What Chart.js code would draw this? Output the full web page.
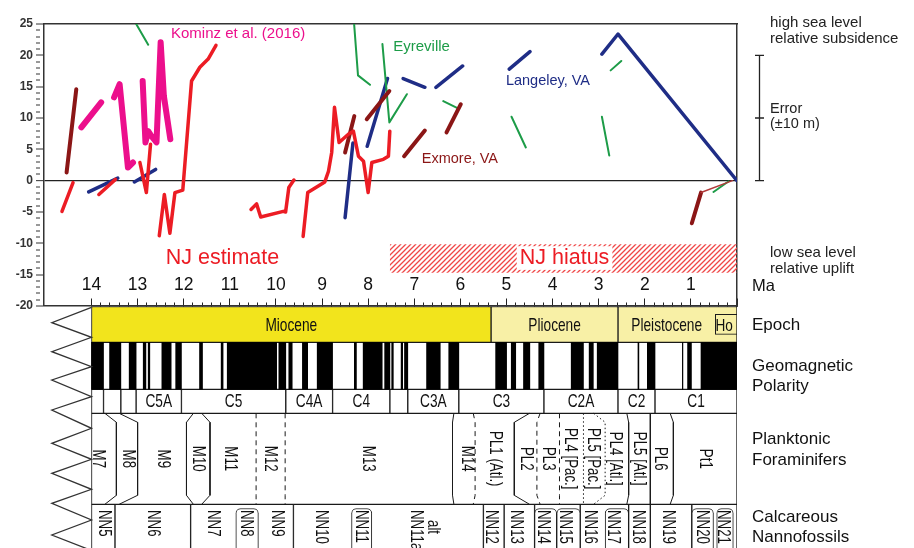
<!DOCTYPE html>
<html>
<head>
<meta charset="utf-8">
<script src="https://cdn.jsdelivr.net/npm/chart.js@4.4.1/dist/chart.umd.min.js"></script>
<style>
  html, body { margin: 0; padding: 0; background: #fff; }
  #wrap { position: relative; width: 914px; height: 548px; overflow: hidden; }
  #seaChart { position: absolute; left: 0; top: 0; }
  #scaleChart { position: absolute; left: 0; top: 306px; }
</style>
</head>
<body>
<div id="wrap">
  <canvas id="seaChart" width="914" height="320"></canvas>
  <canvas id="scaleChart" width="914" height="242"></canvas>
</div>
<script>
// ---- sea level curves: age (Ma) and level (m); null breaks a curve ----
const njAge = [14.64, 14.40, null, 13.84, 13.48, null, 12.95, 12.81, 12.72, null,
  12.53, 12.42, 12.30, 12.19, 12.02, 11.83, 11.65, 11.47, 11.30, null,
  10.54, 10.42, 10.33, 9.84, 9.79, 9.72, 9.61, null,
  9.41, 9.31, 8.94, 8.86, 8.79, 8.73, 8.63, 8.43, 8.32, 8.21, 8.10, 8.00, 7.92, 7.67, 7.56, 7.53];
const njLevel = [-4.9, -0.3, null, -2.2, 0.2, null, 2.9, -1.9, 5.8, null,
  -8.8, -2.2, -8.4, -1.9, -1.5, 15.9, 18.1, 19.4, 21.6, null,
  -4.6, -3.7, -5.8, -4.9, -5.0, -1.1, 0.1, null,
  -8.9, -1.9, -0.2, 1.5, 4.5, 11.7, 6.1, 7.4, 7.9, 3.9, 3.1, -1.9, 2.9, 3.4, 3.9, 7.9];

const kominzAge = [14.22, 13.79, null, 13.51, 13.39, 13.21, 13.10, null,
  12.89, 12.83, 12.77, 12.70, 12.59, 12.50, 12.43, 12.29];
const kominzLevel = [8.5, 12.5, null, 13.3, 15.4, 2.1, 2.9, null,
  15.9, 6.1, 7.9, 7.1, 6.1, 22.1, 13.5, 6.6];

const exmoreAge = [14.54, 14.33, null, 8.50, 8.30, null, 8.03, 7.54, null, 7.22, 6.77, null, 6.30, 5.99, null, 0.98, 0.78, 0.10];
const exmoreLevel = [1.3, 14.6, null, 4.5, 10.3, null, 9.8, 14.3, null, 3.9, 8.0, null, 7.7, 12.2, null, -6.8, -1.9, 0.0];

const langAge = [14.06, 13.43, null, 13.07, 12.61, null, 8.50, 8.33, null, 8.02, 7.58, null,
  7.24, 6.77, null, 6.53, 5.95, null, 4.94, 4.49, null, 2.93, 2.58, 0];
const langLevel = [-1.8, 0.4, null, -0.2, 1.8, null, -5.9, 6.0, null, 5.5, 16.3, null,
  16.3, 14.9, null, 14.9, 18.3, null, 17.8, 20.6, null, 20.2, 23.4, 0];

const eyreAge = [13.07, 12.77, null, 8.31, 8.22, 7.96, null, 7.69, 7.54, 7.16, null, 6.37, 6.04, null,
  4.89, 4.58, null, 2.93, 2.77, null, 2.74, 2.51, null, 0.51, 0.18];
const eyreLevel = [25.5, 21.7, null, 25.6, 16.8, 15.3, null, 21.8, 9.3, 13.8, null, 12.7, 11.5, null,
  10.2, 5.3, null, 10.2, 4.0, null, 17.6, 19.1, null, -1.8, -0.1];

// NJ hiatus band
const hiatusAge = [7.53, 0];
const hiatusTop = -10.15;
const hiatusBottom = -14.7;

// ---- time scale ----
const epochNames = ['Miocene', 'Pliocene', 'Pleistocene'];
const epochFrom = [14, 5.333, 2.58];
const epochTo = [5.333, 2.58, 0];
const holoceneBox = [0.47, 0];

// normal polarity intervals (black)
const normalFrom = [14.0, 13.608, 13.183, 12.878, 12.770, 12.474, 12.174, 11.657, 11.188, 11.056, 9.937, 9.721,
  9.426, 9.105, 8.300, 8.108, 7.642, 7.489, 7.285, 7.212, 6.733, 6.252, 5.235, 4.896, 4.631, 4.300,
  3.596, 3.207, 3.032, 2.148, 1.945, 1.185, 1.072, 0.781];
const normalTo = [13.739, 13.363, 13.032, 12.820, 12.735, 12.272, 12.049, 11.592, 11.146, 9.984, 9.786, 9.647,
  9.311, 8.771, 8.254, 7.695, 7.528, 7.454, 7.251, 7.140, 6.436, 6.033, 4.997, 4.799, 4.493, 4.187,
  3.330, 3.116, 2.581, 2.128, 1.778, 1.173, 0.988, 0];

const chronNames = ['', '', '', 'C5A', 'C5', 'C4A', 'C4', '', 'C3A', 'C3', 'C2A', 'C2', 'C1'];
const chronFrom = [14, 13.739, 13.363, 13.032, 12.049, 9.786, 8.771, 7.528, 7.140, 6.033, 4.187, 2.581, 1.778];
const chronTo = [13.739, 13.363, 13.032, 12.049, 9.786, 8.771, 7.528, 7.140, 6.033, 4.187, 2.581, 1.778, 0];

const foramNames = ['M7', 'M8', 'M9', 'M10', 'M11', 'M12', 'M13', 'M14', 'PL1 (Atl.)', 'PL2', 'PL3',
  'PL4 [Pac.]', 'PL5 [Pac.]', 'PL4 [Atl.]', 'PL5 [Atl.]', 'PL6', 'Pt1'];
const foramAt = [13.86, 13.21, 12.45, 11.69, 11.0, 10.13, 8.0, 5.86, 5.25, 4.57, 4.09, 3.62, 3.11, 2.64, 2.12, 1.67, 0.69];
// zone boundaries: age at row edge, age at row middle
const foramSolidEdge = [13.71, 13.40, 11.79, 11.61, 6.14, 4.50, 2.39, 1.88, 1.45];
const foramSolidMid = [13.46, 13.00, 11.94, 11.43, 6.17, 4.83, 2.35, 1.88, 1.38];
const foramDashEdge = [10.43, 9.80, 5.72, 4.27, 3.85];
const foramDashMid = [10.43, 9.80, 5.68, 4.34, 3.85];
const foramDotEdge = [3.33, 3.11];
const foramDotMid = [3.33, 2.86];

const nannoFrom = [14, 13.49, 11.85, 9.62, 5.50, 5.05, 4.39, 3.40, 2.35, 1.88, 0.98];
const nannoTo = [13.49, 11.85, 9.62, 5.50, 5.05, 4.39, 3.40, 2.35, 1.88, 0.98, 0];
const nannoBoxFrom = [10.87, 8.36, 4.39, 3.91, 2.86, 0.98, 0.44];
const nannoBoxTo = [10.38, 7.92, 3.91, 3.40, 2.35, 0.51, 0.08];
const nannoNames = ['NN5', 'NN6', 'NN7', 'NN8', 'NN9', 'NN10', 'NN11', 'NN11a', 'alt', 'NN12', 'NN13', 'NN14',
  'NN15', 'NN16', 'NN17', 'NN18', 'NN19', 'NN20', 'NN21'];
const nannoAt = [13.73, 12.66, 11.36, 10.64, 9.98, 9.01, 8.14, 6.96, 6.59, 5.32, 4.79, 4.21, 3.73, 3.19, 2.68, 2.14, 1.49, 0.76, 0.29];

const rowTitles = ['Epoch', ['Geomagnetic', 'Polarity'], ['Planktonic', 'Foraminifers'], ['Calcareous', 'Nannofossils']];

// ---- look ----
const FONT = '"Liberation Sans", Arial, Helvetica, sans-serif';
const INK = '#1a1a1a';
const RED = '#ec1c24', MAGENTA = '#ec0f8c', GREEN = '#1d9c48', BLUE = '#1f2d86', DARKRED = '#8b1616';
Chart.defaults.font.family = FONT;
Chart.defaults.color = '#111';

// row bands of the lower panel, in px below its top edge
const ROW = { epoch: [0.5, 36.3], polarity: [36.3, 83.3], chron: [83.3, 107.3], foram: [107.3, 198.3], nanno: [198.3, 254] };
const titleAt = [19.8, 70.5, 144, 221.5];
const mid = r => (r[0] + r[1]) / 2;
const isWhole = v => Math.abs(v - Math.round(v)) < 1e-6;

function curve(ages, levels, color, width, order) {
  return {
    data: ages.map((a, i) => ({ x: a, y: levels[i] })),
    borderColor: color, borderWidth: width, order,
    pointRadius: 0, fill: false, spanGaps: false, tension: 0,
    borderCapStyle: 'round', borderJoinStyle: 'round'
  };
}

function hatchPattern(ctx) {
  const c = document.createElement('canvas');
  c.width = c.height = 5;
  const g = c.getContext('2d');
  g.strokeStyle = '#ef4747';
  g.lineWidth = 1.3;
  g.beginPath();
  g.moveTo(-1, 6); g.lineTo(6, -1);
  g.moveTo(-1, 1); g.lineTo(1, -1);
  g.moveTo(4, 6); g.lineTo(6, 4);
  g.stroke();
  return ctx.createPattern(c, 'repeat');
}

const curveNotes = [
  { text: 'Kominz et al. (2016)', at: [10.82, 23.4], color: MAGENTA, size: 15 },
  { text: 'Eyreville', at: [6.84, 21.3], color: GREEN, size: 15 },
  { text: 'Langeley, VA', at: [4.10, 15.9], color: BLUE, size: 14.5 },
  { text: 'Exmore, VA', at: [6.01, 3.46], color: DARKRED, size: 14.5 },
  { text: 'NJ estimate', at: [11.16, -12.35], color: RED, size: 21.5 },
  { text: 'NJ hiatus', at: [3.74, -12.35], color: RED, size: 21.5, patch: true }
];

const seaNotes = {
  id: 'seaNotes',
  afterDatasetsDraw(chart) {
    const { ctx, scales: { x, y } } = chart;
    ctx.save();
    ctx.textAlign = 'center';
    ctx.textBaseline = 'middle';
    for (const n of curveNotes) {
      const px = x.getPixelForValue(n.at[0]);
      const py = y.getPixelForValue(n.at[1]);
      ctx.font = `${n.size}px ${FONT}`;
      if (n.patch) {
        const w = ctx.measureText(n.text).width;
        ctx.fillStyle = '#fff';
        ctx.fillRect(px - w / 2 - 3, py - n.size * 0.55, w + 6, n.size * 1.1);
      }
      ctx.fillStyle = n.color;
      ctx.fillText(n.text, px, py);
    }
    ctx.restore();
  },
  afterDraw(chart) {
    const { ctx, scales: { y }, chartArea } = chart;
    const bx = chartArea.right + 22.5;
    ctx.save();
    // error bar, +-10 m around 10 m
    ctx.strokeStyle = '#222';
    ctx.lineWidth = 1.3;
    ctx.beginPath();
    ctx.moveTo(bx, y.getPixelForValue(0));
    ctx.lineTo(bx, y.getPixelForValue(20));
    for (const v of [0, 10, 20]) {
      ctx.moveTo(bx - 4.5, y.getPixelForValue(v));
      ctx.lineTo(bx + 4.5, y.getPixelForValue(v));
    }
    ctx.stroke();
    ctx.fillStyle = '#222';
    ctx.textAlign = 'left';
    ctx.textBaseline = 'alphabetic';
    const tx = chartArea.right + 33;
    ctx.font = `15px ${FONT}`;
    ctx.fillText('high sea level', tx, 26.7);
    ctx.fillText('relative subsidence', tx, 43.3);
    ctx.fillText('low sea level', tx, 257.3);
    ctx.fillText('relative uplift', tx, 273.3);
    ctx.font = `14.5px ${FONT}`;
    ctx.fillText('Error', tx, 113.3);
    ctx.fillText('(\u00b110 m)', tx, 128.3);
    ctx.fillStyle = '#111';
    ctx.font = `16.5px ${FONT}`;
    ctx.fillText('Ma', chartArea.right + 15, 290.7);
    ctx.restore();
  }
};

const seaCanvas = document.getElementById('seaChart');
new Chart(seaCanvas, {
  type: 'line',
  data: {
    datasets: [
      curve(kominzAge, kominzLevel, MAGENTA, 6, 1),
      curve(njAge, njLevel, RED, 3.5, 2),
      Object.assign(curve(exmoreAge, exmoreLevel, DARKRED, 4, 3), {
        segment: {
          borderWidth: c => c.p1DataIndex === exmoreAge.length - 1 ? 1.5 : undefined,
          borderColor: c => c.p1DataIndex === exmoreAge.length - 1 ? '#b13a3a' : undefined
        }
      }),
      curve(eyreAge, eyreLevel, GREEN, 2, 4),
      curve(langAge, langLevel, BLUE, 3.5, 5),
      {
        data: hiatusAge.map(a => ({ x: a, y: hiatusTop })),
        borderWidth: 0, pointRadius: 0, order: 20,
        fill: '+1', backgroundColor: hatchPattern(seaCanvas.getContext('2d'))
      },
      {
        data: hiatusAge.map(a => ({ x: a, y: hiatusBottom })),
        borderWidth: 0, pointRadius: 0, order: 21, fill: false
      }
    ]
  },
  options: {
    responsive: false,
    animation: false,
    events: [],
    layout: { padding: { left: 0, right: 177, top: 24, bottom: 14 } },
    plugins: { legend: { display: false }, tooltip: { enabled: false } },
    scales: {
      x: {
        type: 'linear', axis: 'x', min: 0, max: 15.03, reverse: true,
        position: { y: -20 },
        afterFit: s => { s.height = 0; },
        border: { color: '#333', width: 1.5 },
        grid: {
          drawOnChartArea: false, tickLength: -8, tickWidth: 1,
          tickColor: c => c.tick.value > 14.01 ? 'rgba(0,0,0,0)' : '#222',
          tickBorderDash: c => isWhole(c.tick.value) ? [] : [4, 20]
        },
        ticks: {
          stepSize: 0.2, autoSkip: false, maxRotation: 0, minRotation: 0,
          padding: -23.5, color: '#111', font: { size: 17.5 },
          callback: v => (isWhole(v) && v >= 1 && v <= 14) ? String(Math.round(v)) : ''
        }
      },
      y: {
        type: 'linear', axis: 'y', min: -20, max: 25, position: 'left',
        afterFit: s => { s.width = 44; },
        border: { color: '#333', width: 1.5 },
        grid: {
          color: '#222',
          lineWidth: c => c.tick.value === 0 ? 1.3 : 0,
          tickLength: 8, tickWidth: 1, tickColor: '#333',
          tickBorderDash: c => c.tick.value % 5 === 0 ? [] : [4, 20]
        },
        ticks: {
          stepSize: 1, autoSkip: false, padding: 3, color: '#333',
          font: { size: 12, weight: 'bold' },
          callback: v => v % 5 === 0 ? String(v) : ''
        }
      },
      xTop: {
        type: 'linear', axis: 'x', position: 'top',
        afterFit: s => { s.height = 0; },
        ticks: { display: false }, grid: { display: false, drawTicks: false },
        border: { color: '#333', width: 1.5 }
      },
      yRight: {
        type: 'linear', axis: 'y', position: 'right',
        afterFit: s => { s.width = 0; },
        ticks: { display: false }, grid: { display: false, drawTicks: false },
        border: { color: '#333', width: 1.5 }
      }
    }
  },
  plugins: [seaNotes]
});

// ---- lower panel: epochs, polarity, chrons, biozones ----
function band(from, to, row, style) {
  return Object.assign({
    type: 'bar', indexAxis: 'y', stack: 'rows',
    data: from.map((a, i) => ({ x: [a, to[i]], y: mid(row) })),
    barThickness: row[1] - row[0],
    borderColor: INK, borderWidth: 1, borderSkipped: false,
    backgroundColor: '#fff', order: 10
  }, style);
}

function edges(edge, middle, row, style) {
  const inset = 9;
  const pts = [];
  edge.forEach((e, i) => {
    pts.push({ x: e, y: row[0] }, { x: middle[i], y: row[0] + inset },
      { x: middle[i], y: row[1] - inset }, { x: e, y: row[1] }, { x: null, y: null });
  });
  return Object.assign({
    type: 'line', data: pts, borderColor: INK, borderWidth: 1,
    pointRadius: 0, fill: false, spanGaps: false, tension: 0, order: 1
  }, style);
}

function squeezed(ctx, text, px, py, size, squeeze, rotate, align) {
  ctx.save();
  ctx.translate(px, py);
  if (rotate) ctx.rotate(Math.PI / 2);
  ctx.scale(squeeze, 1);
  ctx.font = `${size}px ${FONT}`;
  ctx.textAlign = align;
  ctx.textBaseline = 'middle';
  ctx.fillStyle = '#111';
  ctx.fillText(text, 0, 0);
  ctx.restore();
}

const zoneText = {
  id: 'zoneText',
  afterDatasetsDraw(chart) {
    const { ctx, scales: { x, y } } = chart;
    const ey = y.getPixelForValue(20);
    epochNames.forEach((n, i) => {
      const right = i === epochNames.length - 1 ? holoceneBox[0] : epochTo[i];
      squeezed(ctx, n, x.getPixelForValue((epochFrom[i] + right) / 2), ey, 18.5, 0.74, false, 'center');
    });
    squeezed(ctx, 'Ho', x.getPixelForValue(0.28), ey, 17, 0.8, false, 'center');
    const cy = y.getPixelForValue(95.7);
    chronNames.forEach((n, i) => {
      if (n) squeezed(ctx, n, x.getPixelForValue((chronFrom[i] + chronTo[i]) / 2), cy, 18.5, 0.74, false, 'center');
    });
    const fy = y.getPixelForValue(mid(ROW.foram));
    foramNames.forEach((n, i) => squeezed(ctx, n, x.getPixelForValue(foramAt[i]), fy, 19, 0.7, true, 'center'));
    nannoNames.forEach((n, i) => {
      const top = n === 'alt' ? 214 : 204;
      squeezed(ctx, n, x.getPixelForValue(nannoAt[i]), y.getPixelForValue(top), 19, 0.7, true, 'left');
    });
  }
};

// zigzag break symbol left of the time scale
const zigAge = [14, 14.86, 14, 14.86, 14, 14.86, 14, 14.86, 14, 14.86, 14, 14.86, 14, 14.86, 14, 14.86, 14];
const zigRow = [1.3, 16.7, 31.3, 45.7, 60.7, 74, 90.7, 104, 122.3, 137.3, 153.3, 167.3, 183.3, 197.3, 214, 229, 244.5];

const hoRow = [mid(ROW.epoch) - 10, mid(ROW.epoch) + 10];
const boxRow = [202.5, 254];

new Chart(document.getElementById('scaleChart'), {
  type: 'bar',
  data: {
    datasets: [
      band(epochFrom, epochTo, ROW.epoch, { backgroundColor: ['#f2e41c', '#f8f0a6', '#f8f0a6'] }),
      band([holoceneBox[0]], [holoceneBox[1]], hoRow, { backgroundColor: '#f8f0a6', order: 9 }),
      band([14], [0], ROW.polarity),
      band(normalFrom, normalTo, ROW.polarity, { backgroundColor: '#000', borderWidth: 0, order: 8 }),
      band(chronFrom, chronTo, ROW.chron),
      band([14], [0], ROW.foram),
      band(nannoFrom, nannoTo, ROW.nanno),
      band(nannoBoxFrom, nannoBoxTo, boxRow, { borderRadius: 5, order: 8 }),
      edges(foramSolidEdge, foramSolidMid, ROW.foram, {}),
      edges(foramDashEdge, foramDashMid, ROW.foram, { borderDash: [5, 4] }),
      edges(foramDotEdge, foramDotMid, ROW.foram, { borderDash: [1.5, 2.5] }),
      {
        type: 'line', data: zigAge.map((a, i) => ({ x: a, y: zigRow[i] })),
        borderColor: '#333', borderWidth: 1.3, pointRadius: 0, fill: false, tension: 0, order: 1
      }
    ]
  },
  options: {
    responsive: false,
    animation: false,
    events: [],
    layout: { padding: { left: 44, right: 0, top: 0, bottom: 0 } },
    plugins: { legend: { display: false }, tooltip: { enabled: false } },
    scales: {
      x: {
        type: 'linear', axis: 'x', min: 0, max: 15.03, reverse: true, display: false,
        stacked: false, offset: false, grid: { offset: false }
      },
      y: {
        type: 'linear', axis: 'y', min: 0, max: 242, reverse: true, display: false,
        offset: false, grid: { offset: false }
      },
      yR: {
        type: 'linear', axis: 'y', position: 'right', min: 0, max: 242, reverse: true,
        afterFit: s => {
          s.width = 177;
          // labels sit inside the rows, no extra room needed above or below
          s.paddingTop = 0;
          s.paddingBottom = 0;
        },
        afterBuildTicks: s => { s.ticks = titleAt.map(v => ({ value: v })); },
        grid: { display: false, drawTicks: false },
        border: { display: false },
        ticks: {
          autoSkip: false, padding: 15, color: '#111', font: { size: 17 },
          callback: (v, i) => rowTitles[i]
        }
      }
    }
  },
  plugins: [zoneText]
});
</script>
</body>
</html>
